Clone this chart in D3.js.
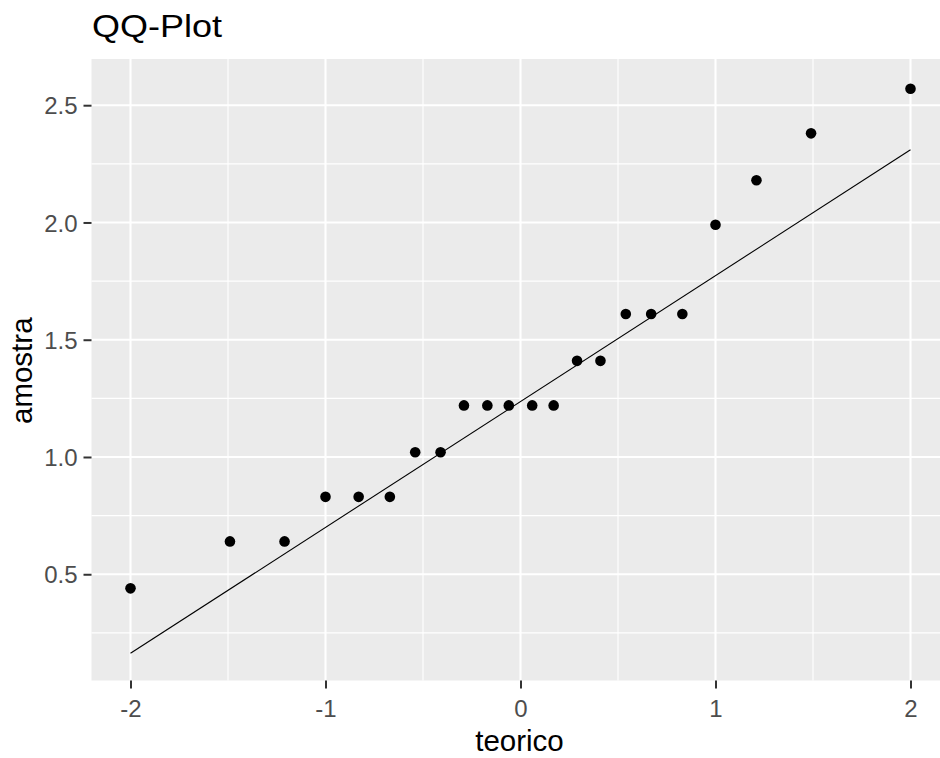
<!DOCTYPE html>
<html>
<head>
<meta charset="utf-8">
<script src="https://cdn.jsdelivr.net/npm/d3@7"></script>
<style>
  html, body { margin: 0; padding: 0; background: #ffffff; }
  svg { display: block; font-family: "Liberation Sans", Arial, sans-serif; }
</style>
</head>
<body>
<svg id="chart" width="940" height="758"></svg>
<script>
// Theoretical normal quantiles (x) and sorted sample values (y)
const teorico = [-2.00, -1.49, -1.21, -1.00, -0.83, -0.67, -0.54, -0.41, -0.29, -0.17, -0.06,
                  0.06,  0.17,  0.29,  0.41,  0.54,  0.67,  0.83,  1.00,  1.21,  1.49,  2.00];
const amostra = [0.44, 0.64, 0.64, 0.83, 0.83, 0.83, 1.02, 1.02, 1.22, 1.22, 1.22,
                 1.22, 1.22, 1.41, 1.41, 1.61, 1.61, 1.61, 1.99, 2.18, 2.38, 2.57];

// Reference line endpoints
const lineX = [-2, 2];
const lineY = [0.163, 2.31];

// Axis ticks
const xTicks = [-2, -1, 0, 1, 2];
const xMinor = [-1.5, -0.5, 0.5, 1.5];
const yTicks = [0.5, 1.0, 1.5, 2.0, 2.5];
const yMinor = [0.25, 0.75, 1.25, 1.75, 2.25];

const title = "QQ-Plot";
const xTitle = "teorico";
const yTitle = "amostra";

const panel = { left: 91.5, right: 949.5, top: 59, bottom: 680.5 };

const x = d3.scaleLinear().domain([-2.2, 2.2]).range([panel.left, panel.right]);
const y = d3.scaleLinear().domain([0.047, 2.697]).range([panel.bottom, panel.top]);

const svg = d3.select("#chart");

// Panel background
svg.append("rect")
  .attr("x", panel.left).attr("y", panel.top)
  .attr("width", panel.right - panel.left).attr("height", panel.bottom - panel.top)
  .attr("fill", "#EBEBEB");

const grid = svg.append("g");
// Minor grid
grid.selectAll(".xminor").data(xMinor).enter().append("line")
  .attr("x1", d => x(d)).attr("x2", d => x(d))
  .attr("y1", panel.top).attr("y2", panel.bottom)
  .attr("stroke", "#ffffff").attr("stroke-width", 1.1);
grid.selectAll(".yminor").data(yMinor).enter().append("line")
  .attr("y1", d => y(d)).attr("y2", d => y(d))
  .attr("x1", panel.left).attr("x2", panel.right)
  .attr("stroke", "#ffffff").attr("stroke-width", 1.1);
// Major grid
grid.selectAll(".xmajor").data(xTicks).enter().append("line")
  .attr("x1", d => x(d)).attr("x2", d => x(d))
  .attr("y1", panel.top).attr("y2", panel.bottom)
  .attr("stroke", "#ffffff").attr("stroke-width", 2.1);
grid.selectAll(".ymajor").data(yTicks).enter().append("line")
  .attr("y1", d => y(d)).attr("y2", d => y(d))
  .attr("x1", panel.left).attr("x2", panel.right)
  .attr("stroke", "#ffffff").attr("stroke-width", 2.1);

// Reference line
svg.append("path")
  .datum(lineX.map((d, i) => [d, lineY[i]]))
  .attr("d", d3.line().x(d => x(d[0])).y(d => y(d[1])))
  .attr("fill", "none").attr("stroke", "#000000").attr("stroke-width", 1.1);

// Points
svg.append("g").selectAll("circle")
  .data(teorico.map((d, i) => ({ t: d, a: amostra[i] })))
  .enter().append("circle")
  .attr("cx", d => x(d.t)).attr("cy", d => y(d.a))
  .attr("r", 5.3).attr("fill", "#000000");

// Axes
const xAxis = svg.append("g")
  .attr("transform", `translate(0,${panel.bottom})`)
  .call(d3.axisBottom(x).tickValues(xTicks).tickSize(8).tickPadding(4).tickFormat(d => String(d)));
const yAxis = svg.append("g")
  .attr("transform", `translate(${panel.left},0)`)
  .call(d3.axisLeft(y).tickValues(yTicks).tickSize(8).tickPadding(6).tickFormat(d3.format(".1f")));

[xAxis, yAxis].forEach(g => {
  g.select(".domain").remove();
  g.selectAll(".tick line").attr("stroke", "#333333").attr("stroke-width", 2);
  g.selectAll(".tick text").attr("fill", "#4D4D4D").style("font-size", "24px")
    .style("font-family", '"Liberation Sans", Arial, sans-serif');
});
xAxis.selectAll(".tick text").attr("dy", null).attr("y", 36.5);
yAxis.selectAll(".tick text").attr("dy", "0.36em");

// Titles
svg.append("text")
  .attr("x", 92).attr("y", 37)
  .attr("textLength", 130).attr("lengthAdjust", "spacingAndGlyphs")
  .style("font-size", "31px").attr("fill", "#000000")
  .text(title);

svg.append("text")
  .attr("x", (panel.left + panel.right) / 2 - 1).attr("y", 751)
  .attr("text-anchor", "middle")
  .style("font-size", "29.5px").attr("fill", "#000000")
  .text(xTitle);

svg.append("text")
  .attr("transform", `translate(32,${(panel.top + panel.bottom) / 2 + 1}) rotate(-90)`)
  .attr("text-anchor", "middle")
  .style("font-size", "29.5px").attr("fill", "#000000")
  .text(yTitle);
</script>
</body>
</html>
